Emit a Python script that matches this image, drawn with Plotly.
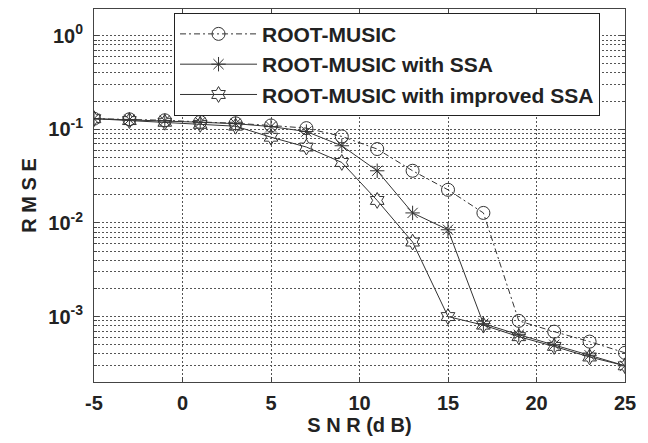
import numpy as np
import plotly.graph_objects as go

snr = [-5, -3, -1, 1, 3, 5, 7, 9, 11, 13, 15, 17, 19, 21, 23, 25]
rmse_root_music = [0.130, 0.128, 0.125, 0.120, 0.116, 0.110, 0.103, 0.084, 0.0616, 0.0361,
                   0.0226, 0.0128, 9.0e-4, 6.9e-4, 5.4e-4, 4.1e-4]
rmse_ssa = [0.130, 0.127, 0.124, 0.119, 0.115, 0.107, 0.0947, 0.0668, 0.0361, 0.0128,
            0.00846, 8.4e-4, 6.4e-4, 5.0e-4, 3.86e-4, 2.98e-4]
rmse_improved = [0.130, 0.124, 0.119, 0.113, 0.108, 0.0824, 0.0647, 0.0443, 0.0174, 0.00625,
                 1.0e-3, 8.1e-4, 6.1e-4, 4.8e-4, 3.7e-4, 2.98e-4]

series_names = ["ROOT-MUSIC", "ROOT-MUSIC with SSA", "ROOT-MUSIC with improved SSA"]
x_ticks = [-5, 0, 5, 10, 15, 20, 25]
x_tick_text = ["-5", "0", "5", "10", "15", "20", "25"]
y_ticks = [1e-3, 1e-2, 1e-1, 1]
y_tick_text = ["10<sup>-3</sup>", "10<sup>-2</sup>", "10<sup>-1</sup>", "10<sup>0</sup>"]

FONT = "Liberation Sans, Arial, sans-serif"
INK = "#333333"
GRID = "#555555"
FS = 20

minor_vals = [k * 10.0 ** e for e in range(-4, 1) for k in range(2, 10)]

fig = go.Figure()
fig.add_trace(go.Scatter(
    x=snr, y=rmse_root_music, name=series_names[0], mode="lines+markers",
    line=dict(color=INK, width=1, dash="6px,3px,2px,3px"),
    marker=dict(symbol="circle-open", size=13, color=INK, line=dict(width=1))))
fig.add_trace(go.Scatter(
    x=snr, y=rmse_ssa, name=series_names[1], mode="lines+markers",
    line=dict(color=INK, width=1),
    marker=dict(symbol="asterisk-open", size=12, color=INK, line=dict(width=1))))
fig.add_trace(go.Scatter(
    x=snr, y=rmse_improved, name=series_names[2], mode="lines+markers",
    line=dict(color=INK, width=1),
    marker=dict(symbol="hexagram-open", size=12, color=INK, line=dict(width=1))))

fig.update_layout(
    width=648, height=443,
    margin=dict(l=94, r=23, t=9, b=61),
    paper_bgcolor="white", plot_bgcolor="white",
    font=dict(family=FONT, size=FS, color="#222222", weight="bold"),
    showlegend=True,
    legend=dict(x=0.1507, y=0.99, xanchor="left", yanchor="top",
                bgcolor="white", bordercolor="#222222", borderwidth=1,
                font=dict(family=FONT, size=21, color="#222222", weight="bold"),
                itemwidth=77),
)
fig.update_xaxes(
    range=[-5, 25], tickmode="array", tickvals=x_ticks, ticktext=x_tick_text,
    showline=True, linecolor="#444444", linewidth=1, mirror="ticks",
    ticks="inside", ticklen=5, tickcolor="#444444",
    showgrid=True, gridcolor=GRID, griddash="2px,2px", gridwidth=1,
    zeroline=False, ticklabelstandoff=3,
    tickfont=dict(family=FONT, size=FS, weight="bold"),
    title=dict(text="S N R (d B)", standoff=0,
               font=dict(family=FONT, size=FS, weight="bold")),
)
fig.update_yaxes(
    type="log", range=[np.log10(2e-4), np.log10(1.93)],
    tickmode="array", tickvals=y_ticks, ticktext=y_tick_text,
    showline=True, linecolor="#444444", linewidth=1, mirror="ticks",
    ticks="inside", ticklen=5, tickcolor="#444444",
    showgrid=True, gridcolor=GRID, griddash="2px,2px", gridwidth=1,
    minor=dict(tickmode="array", tickvals=minor_vals, ticks="inside", ticklen=3,
               tickcolor="#444444", showgrid=True, gridcolor=GRID,
               griddash="2px,2px", gridwidth=1),
    zeroline=False, ticklabelstandoff=6,
    tickfont=dict(family=FONT, size=FS, weight="bold"),
    title=dict(text="R M S E", standoff=6,
               font=dict(family=FONT, size=FS, weight="bold")),
)

fig.write_html("out.html", config={"displayModeBar": False},
               post_script="document.body.style.margin='0';document.body.style.overflow='hidden';")
